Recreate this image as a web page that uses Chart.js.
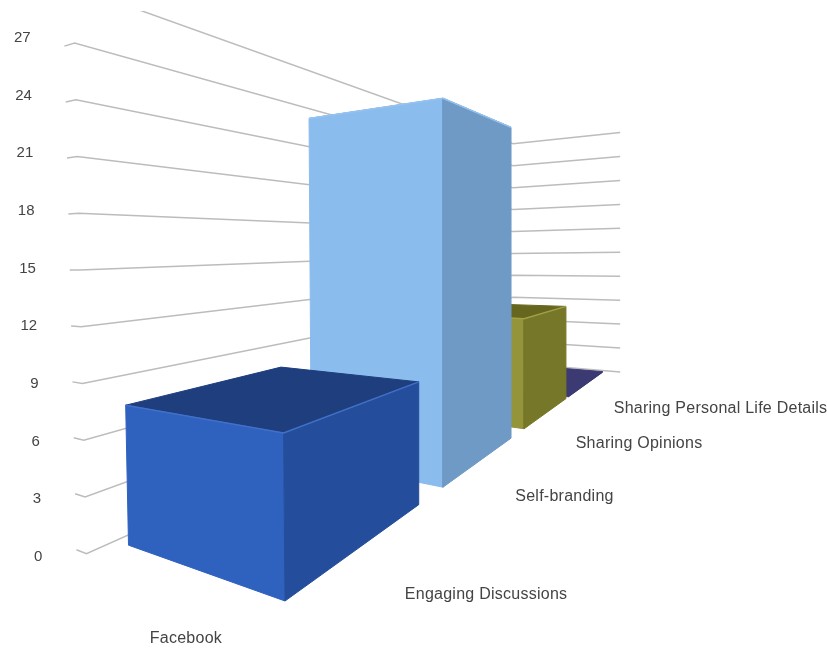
<!DOCTYPE html>
<html>
<head>
<meta charset="utf-8">
<title>Facebook</title>
<script src="https://cdn.jsdelivr.net/npm/chart.js@4"></script>
<style>
  html, body { margin: 0; background: #fff; }
  canvas { display: block; }
</style>
</head>
<body>
<canvas id="chart3d" width="827" height="648"></canvas>
<script>
// Data
const seriesName = 'Facebook';
const categories = ['Engaging Discussions', 'Self-branding', 'Sharing Opinions', 'Sharing Personal Life Details'];
const barValues = [7.6, 25.8, 9.6, 0.1];
const gridValues = [0, 3, 6, 9, 12, 15, 18, 21, 24, 27, 30];
const tickLabels = ['0', '3', '6', '9', '12', '15', '18', '21', '24', '27'];

// Colours per bar: front, side, top, edge highlight
const barColors = [
  ['#2f61bf', '#244e9c', '#1e3e7e', '#4270c8'],
  ['#8bbcee', '#6f9ac6', '#6f9ac6', '#96c2f0'],
  ['#94943a', '#77772a', '#66661f', '#a0a046'],
  ['#4a4888', '#3c3a74', '#3c3a72', '#3c3a72']
];
const gridColor = '#bcbcbc';
const textColor = '#444444';

// Perspective setup: a runs across the bars, b runs along the categories, v is the value
const origin = { x: 285, y: 601 };
const vanishA = { x: -654, y: 266, w: 0.2 };
const vanishB = { x: 782, y: 243, w: 0.466 };
const unitHeight = 22.1;
const tiltCentre = 400;
const tiltRange = 13500;

// Where each bar starts and ends along b
const barStart = [0, 1, 1.99, 2.85];
const barEnd = [0.79, 1.79, 2.79, 3.79];
const wallA = 1.1;
const wallB = 3.87;
const wallEndA = -0.17;
const wallStartB = -0.11;
const hookA = 0.08;
const labelDrop = [0, 5, 8, 9];

function project(a, b, v) {
  const wa = a * vanishA.w, wb = b * vanishB.w;
  const w = 1 + wa + wb;
  const x0 = (origin.x + wa * vanishA.x + wb * vanishB.x) / w;
  const y0 = (origin.y + wa * vanishA.y + wb * vanishB.y) / w;
  const h = v * unitHeight / w;
  return { x: x0 - h * Math.max(0, tiltCentre - x0) / tiltRange, y: y0 - h };
}

function closed(points) {
  return points.concat([points[0]]);
}

const datasets = [];
function addFace(points, color) {
  datasets.push({ data: closed(points), backgroundColor: color, borderColor: color, borderWidth: 1, fill: 'shape' });
}
function addLine(points, color, width) {
  datasets.push({ data: points, borderColor: color, borderWidth: width, fill: false });
}

// Back walls with one line per grid value
gridValues.forEach(v => {
  addLine([
    project(wallA + hookA, wallStartB, v),
    project(wallA, wallStartB, v),
    project(wallA, wallB, v),
    project(wallEndA, wallB, v)
  ], gridColor, 1.5);
});

// Bars, furthest first so nearer ones cover them
for (let i = categories.length - 1; i >= 0; i--) {
  const v = barValues[i];
  const b0 = barStart[i], b1 = barEnd[i];
  const [front, side, top, edge] = barColors[i];
  addFace([project(0, b0, v), project(1, b0, v), project(1, b1, v), project(0, b1, v)], top);
  addFace([project(1, b0, 0), project(0, b0, 0), project(0, b0, v), project(1, b0, v)], front);
  addFace([project(0, b0, 0), project(0, b1, 0), project(0, b1, v), project(0, b0, v)], side);
  addLine([project(1, b0, v), project(0, b0, v), project(0, b1, v)], edge, 1.5);
}

// Later datasets sit on top
datasets.forEach((d, idx) => {
  d.order = datasets.length - idx;
  d.showLine = true;
  d.pointRadius = 0;
  d.tension = 0;
});

// Text on the walls and under the bars
const textLabels = {
  id: 'textLabels',
  afterDatasetsDraw(chart) {
    const { ctx, scales: { x, y } } = chart;
    ctx.save();
    ctx.fillStyle = textColor;
    ctx.textBaseline = 'middle';

    ctx.font = '15px "Liberation Sans"';
    ctx.textAlign = 'right';
    tickLabels.forEach((label, i) => {
      const v = gridValues[i];
      const p = project(wallA, wallStartB, v);
      ctx.fillText(label, x.getPixelForValue(p.x) - 44, y.getPixelForValue(p.y) + 3 - 0.3 * v);
    });

    ctx.font = '16px "Liberation Sans"';
    ctx.letterSpacing = '0.25px';
    ctx.textAlign = 'left';
    categories.forEach((label, i) => {
      const p = project(-0.4, 0.2 + 0.9 * i, 0);
      ctx.fillText(label, x.getPixelForValue(p.x), y.getPixelForValue(p.y) + labelDrop[i]);
    });

    ctx.textAlign = 'center';
    const s = project(0.15, -0.266, 0);
    ctx.fillText(seriesName, x.getPixelForValue(s.x), y.getPixelForValue(s.y));
    ctx.restore();
  }
};

new Chart(document.getElementById('chart3d'), {
  type: 'scatter',
  data: { datasets: datasets },
  plugins: [textLabels],
  options: {
    responsive: false,
    animation: false,
    layout: { padding: { top: 11 } },
    plugins: { legend: { display: false }, tooltip: { enabled: false } },
    scales: {
      x: { type: 'linear', display: false, min: 0, max: 827 },
      y: { type: 'linear', display: false, min: 11, max: 648, reverse: true }
    }
  }
});
</script>
</body>
</html>
